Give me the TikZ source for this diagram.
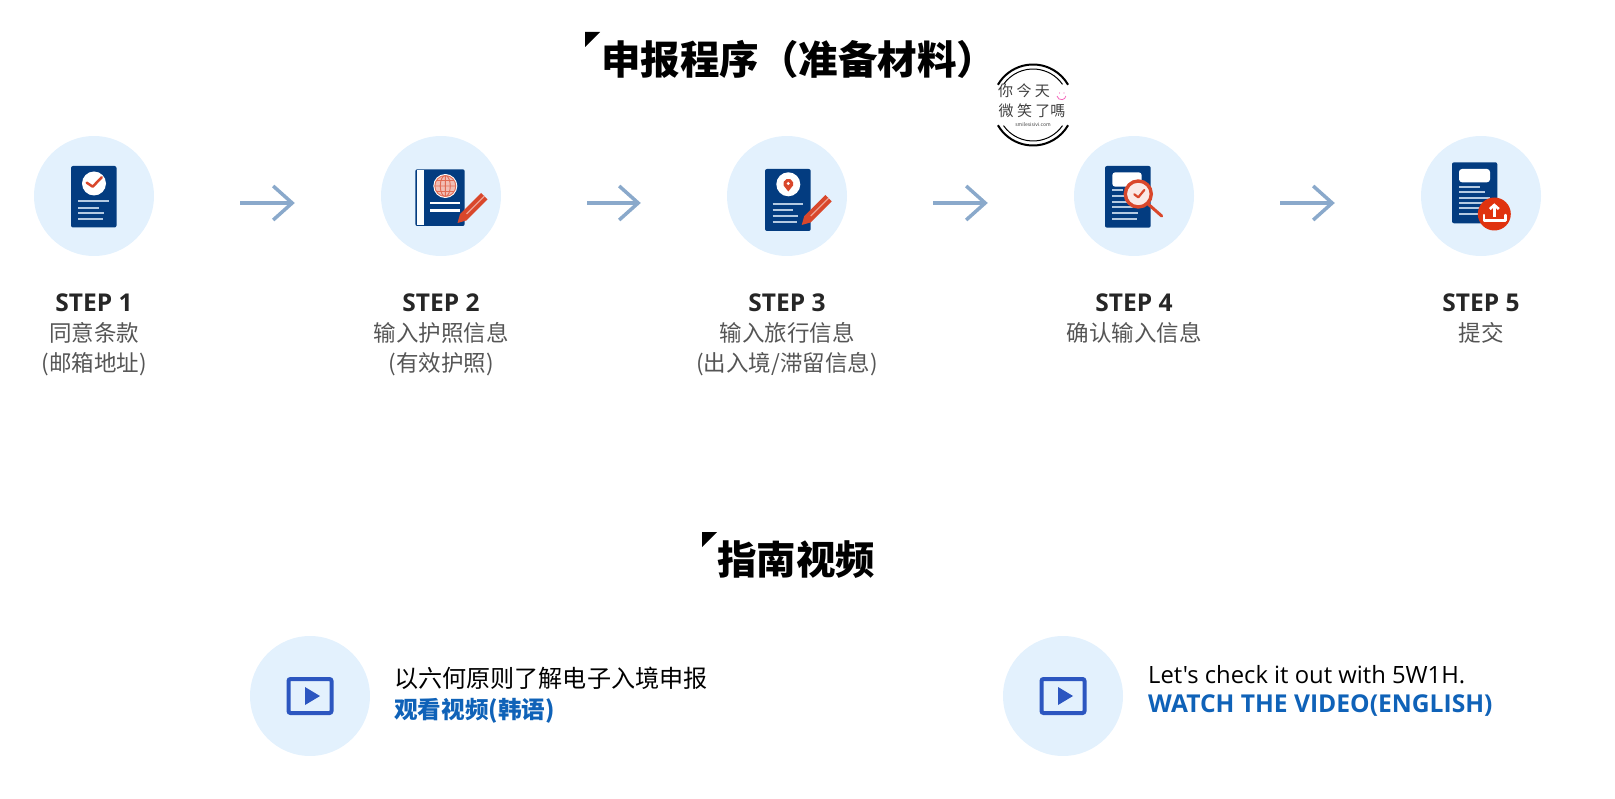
\documentclass[tikz,border=0pt]{standalone}
\usepackage{fontspec}
\setmainfont{Noto Sans CJK SC}
\newfontfamily\latinsans{Open Sans}
\usetikzlibrary{arrows.meta}
\definecolor{circleblue}{HTML}{E3F1FD}
\definecolor{docblue}{HTML}{033C80}
\definecolor{arrowblue}{HTML}{8AA9CB}
\definecolor{markred}{HTML}{D9472B}
\definecolor{uploadred}{HTML}{E0330F}
\definecolor{paleline}{HTML}{B4CAE2}
\definecolor{playblue}{HTML}{2C56C0}
\definecolor{linkblue}{HTML}{0F62B8}
\definecolor{stepgrey}{HTML}{555555}
\tikzset{
  iconcircle/.style={circle, fill=circleblue, minimum size=120pt, inner sep=0pt},
  flowarrow/.style={draw=arrowblue, line width=3.5pt, -{Straight Barb[length=19pt,width=34pt]}, shorten <=86pt, shorten >=86pt},
  sectiontitle/.style={anchor=west, inner sep=0pt, font=\fontsize{39.5}{42}\selectfont\bfseries},
  steplabel/.style={anchor=north, inner sep=0pt, align=center, text=stepgrey, font=\fontsize{22.5}{30}\selectfont},
  videotext/.style={anchor=west, inner sep=0pt, align=left},
  docbody/.style={fill=docblue, rounded corners=2pt},
  docline/.style={draw=paleline, line width=2.2pt},
  redmark/.style={draw=markred, line width=2.5pt, line cap=round, line join=round},
  playframe/.style={draw=playblue, line width=4pt, rounded corners=2pt},
  stamptext/.style={inner sep=0pt, text=black!75},
  pencil/.pic={
    \fill[markred] (0,0) -- (8.8,-2.5) -- (30,-23.7) -- (23.7,-30) -- (2.5,-8.8) -- cycle;
    \draw[white!50!markred, line width=1.2pt] (9,-9) -- (27,-27);
  },
  playicon/.pic={
    \draw[playframe] (-21.5,-17) rectangle (21.5,17);
    \fill[playblue] (-5,-9) -- (10,0) -- (-5,9) -- cycle;
  }
}
\newcommand{\stepname}[1]{{\latinsans\bfseries\fontsize{24.5}{30}\selectfont\color{black!85}#1}}
\begin{document}
\begin{tikzpicture}[x=1pt, y=-1pt]
    \useasboundingbox (0,0) rectangle (1615,799);

    % headings
    \fill[black] (585,32) -- (600,32) -- (585,47) -- cycle;
    \node[sectiontitle] (maintitle) at (601,59.5) {申报程序（准备材料）};
    \fill[black] (702,532) -- (717,532) -- (702,547) -- cycle;
    \node[sectiontitle] (videotitle) at (717,560) {指南视频};

    % stamp
    \coordinate (stamp) at (1033,105);
    \draw[line width=2pt] ([shift={(150:40.5pt)}]stamp) arc[start angle=150, end angle=30, radius=40.5pt];
    \draw[line width=1pt] ([shift={(145:36pt)}]stamp) arc[start angle=145, end angle=35, radius=36pt];
    \draw[line width=2pt] ([shift={(210:40.5pt)}]stamp) arc[start angle=210, end angle=330, radius=40.5pt];
    \draw[line width=1pt] ([shift={(215:36pt)}]stamp) arc[start angle=215, end angle=325, radius=36pt];
    \node[stamptext, font=\fontsize{15}{15}\selectfont] (stampa) at (1024,91) {你 今 天};
    \node[stamptext, font=\fontsize{15}{15}\selectfont] (stampb) at (1032,111) {微 笑 了嗎};
    \node[stamptext, font=\fontsize{5}{5}\selectfont\itshape] (stampc) at (1033,125) {smilesisivi.com};
    \draw[magenta!60, line width=.8pt] (1057,96) arc[start angle=190, end angle=350, radius=4.5pt];
    \fill[magenta!60] (1059.5,93) circle (.7pt) (1064,93) circle (.7pt);

    % circles
    \node[iconcircle] (step1) at (94,196) {};
    \node[iconcircle] (step2) at (441,196) {};
    \node[iconcircle] (step3) at (787,196) {};
    \node[iconcircle] (step4) at (1134,196) {};
    \node[iconcircle] (step5) at (1481,196) {};

    % arrows
    \draw[flowarrow] ([yshift=-7pt]step1.east) -- ([yshift=-7pt]step2.west);
    \draw[flowarrow] ([yshift=-7pt]step2.east) -- ([yshift=-7pt]step3.west);
    \draw[flowarrow] ([yshift=-7pt]step3.east) -- ([yshift=-7pt]step4.west);
    \draw[flowarrow] ([yshift=-7pt]step4.east) -- ([yshift=-7pt]step5.west);

    % step 1 icon
    \fill[docbody] (71,166) rectangle (116.5,227.5);
    \fill[white] (94,183.5) circle (12);
    \draw[redmark] (86.7,182.7) -- (92.7,186.7) -- (101.7,177.3);
    \draw[docline] (78,201.3) -- (109.3,201.3) (78,207.7) -- (99,207.7) (78,213.3) -- (104,213.3) (78,218.7) -- (103,218.7);

    % step 2 icon
    \fill[docbody] (415.3,169.3) rectangle (464.7,226);
    \fill[white!90!circleblue] (416.5,170.5) rectangle (424,225);
    \fill[white] (445.3,186) circle (12);
    \fill[markred!35!white] (445.3,186) circle (10.5);
    \draw[markred!80!white, line width=.9pt] (445.3,186) circle (10.5) (445.3,186) ellipse (5 and 10.5) (434.8,186) -- (455.8,186) (445.3,175.5) -- (445.3,196.5) (436.5,180.5) -- (454,180.5) (436.5,191.5) -- (454,191.5);
    \draw[white, line width=2.4pt] (430,203.3) -- (460,203.3) (430,210.7) -- (460,210.7);
    \pic at (457.5,223) {pencil};

    % step 3 icon
    \fill[docbody] (765,169) rectangle (810.7,231);
    \fill[white] (788.3,184.3) circle (12);
    \fill[markred] (783.6,185.5) arc[start angle=200, end angle=-20, radius=5pt] -- (788.3,191.5) -- cycle;
    \fill[white] (788.3,183.5) circle (1.6);
    \draw[docline] (772.7,204.3) -- (802.7,204.3) (772.7,210) -- (793,210) (772.7,216) -- (798,216) (772.7,221.7) -- (796.7,221.7);
    \pic at (801.7,225) {pencil};

    % step 4 icon
    \fill[docbody] (1105,166) rectangle (1150.7,227.7);
    \fill[white, rounded corners=3pt] (1112.3,172.3) rectangle (1141.7,186.7);
    \draw[docline] (1112.3,190) -- (1123,190) (1112.3,195.7) -- (1128,195.7) (1112.3,201.7) -- (1127,201.7) (1112.3,207.3) -- (1133,207.3) (1112.3,213) -- (1138,213) (1112.3,219) -- (1137,219);
    \draw[redmark, line width=3pt] (1147.5,203.5) -- (1161.7,216);
    \draw[markred, line width=3.4pt, fill=markred!12!white] (1138.3,194) circle (13);
    \draw[redmark, line width=2.2pt] (1134.3,194.3) -- (1138.3,197.3) -- (1144.3,190);

    % step 5 icon
    \fill[docbody] (1452,162.3) rectangle (1497.3,223.3);
    \fill[white, rounded corners=3pt] (1459,169) rectangle (1490,182.3);
    \draw[docline] (1459.3,186.7) -- (1480,186.7) (1459.3,192.3) -- (1485,192.3) (1459.3,197.7) -- (1490,197.7) (1459.3,203.3) -- (1490,203.3) (1459.3,208.3) -- (1490,208.3) (1459.3,214.3) -- (1480,214.3);
    \fill[uploadred] (1494.3,214) circle (16.5);
    \draw[white, line width=2.4pt, line cap=round, line join=round] (1484,215) -- (1484,220.7) -- (1505.3,220.7) -- (1505.3,215);
    \draw[white, line width=2.6pt, -{Straight Barb[length=4pt,width=9pt]}] (1494.3,216.7) -- (1494.3,203.3);

    % step texts
    \node[steplabel] (text1) at (94,294) {\stepname{STEP 1}\\同意条款\\(邮箱地址)};
    \node[steplabel] (text2) at (441,294) {\stepname{STEP 2}\\输入护照信息\\(有效护照)};
    \node[steplabel] (text3) at (787,294) {\stepname{STEP 3}\\输入旅行信息\\(出入境/滞留信息)};
    \node[steplabel] (text4) at (1134,294) {\stepname{STEP 4}\\确认输入信息};
    \node[steplabel] (text5) at (1481,294) {\stepname{STEP 5}\\提交};

    % video links
    \node[iconcircle] (videoa) at (310,696) {};
    \pic at (310,696) {playicon};
    \node[videotext, font=\fontsize{24.1}{31}\selectfont] (videoatext) at (394,695) {以六何原则了解电子入境申报\\{\bfseries\color{linkblue}\fontsize{23.6}{31}\selectfont 观看视频(韩语)}};
    \node[iconcircle] (videob) at (1063,696) {};
    \pic at (1063,696) {playicon};
    \node[videotext, font=\latinsans\fontsize{23.8}{29}\selectfont] (videobtext) at (1148,691) {Let's check it out with 5W1H.\\{\bfseries\fontsize{24.6}{29}\selectfont\color{linkblue}WATCH THE VIDEO(ENGLISH)}};
\end{tikzpicture}
\end{document}
